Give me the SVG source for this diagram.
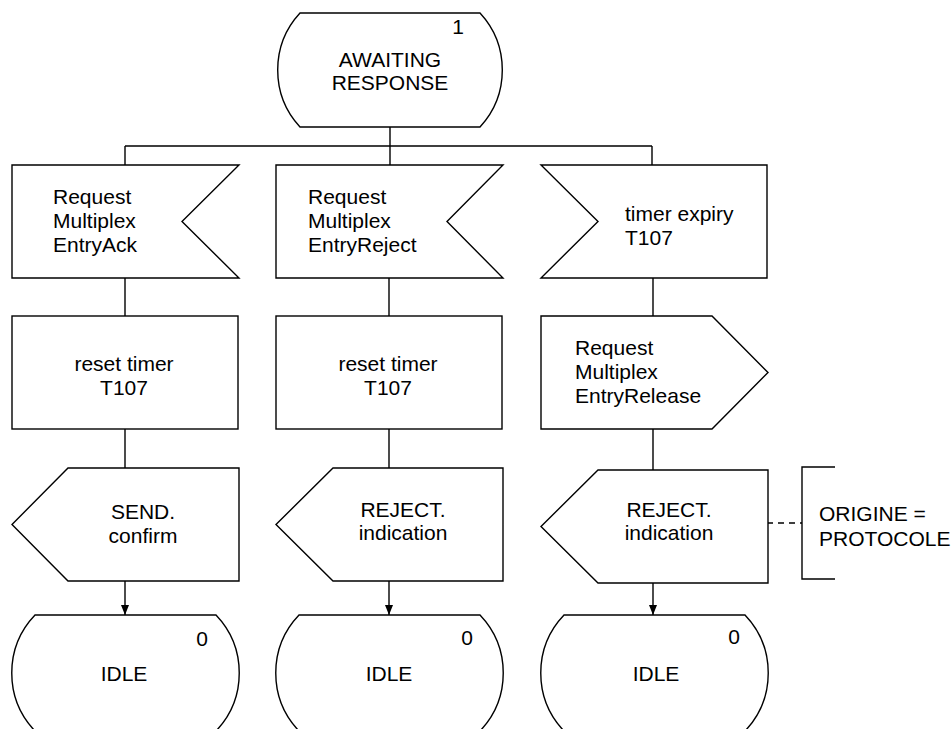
<svg xmlns="http://www.w3.org/2000/svg" width="951" height="729" viewBox="0 0 951 729">
<defs>
<style>
.s{fill:#fff;stroke:#000;stroke-width:1.4}
.c{fill:none;stroke:#000;stroke-width:1.4}
.d{fill:none;stroke:#000;stroke-width:1.4;stroke-dasharray:6 5}
text{font-family:"Liberation Sans",Arial,sans-serif;font-size:21px;fill:#000}
.m{text-anchor:middle}
</style>
<marker id="ah" viewBox="0 0 10 10" refX="10" refY="5" markerWidth="10" markerHeight="10" markerUnits="userSpaceOnUse" orient="auto">
<path d="M0,1 L10,5 L0,9 Z" fill="#000"/>
</marker>
</defs>
<rect width="951" height="729" fill="#fff"/>
<g id="connectors">
<path class="c" d="M390,127 V165 M125,146 H652 M125,146 V165 M652,146 V165"/>
<path class="c" d="M125,278 V316 M389,278 V316 M653,278 V316"/>
<path class="c" d="M125,429 V468 M389,429 V468 M653,429 V470"/>
<path class="c" d="M125,581 V615" marker-end="url(#ah)"/>
<path class="c" d="M389,581 V615" marker-end="url(#ah)"/>
<path class="c" d="M653,583 V615" marker-end="url(#ah)"/>
<path class="d" d="M767,523 H802"/>
</g>
<g id="state-awaiting">
<path class="s" d="M300,13 H480 A84,84 0 0 1 480,127 H300 A84,84 0 0 1 300,13 Z"/>
<text x="458" y="34" class="m">1</text>
<text x="390" y="67" class="m">AWAITING</text>
<text x="390" y="90" class="m">RESPONSE</text>
</g>
<g id="in-ack">
<path class="s" d="M12,165 H239 L182,221.5 L239,278 H12 Z"/>
<text x="53" y="204">Request</text>
<text x="53" y="228">Multiplex</text>
<text x="53" y="252">EntryAck</text>
</g>
<g id="in-reject">
<path class="s" d="M276,165 H503 L447,221.5 L503,278 H276 Z"/>
<text x="308" y="204">Request</text>
<text x="308" y="228">Multiplex</text>
<text x="308" y="252">EntryReject</text>
</g>
<g id="in-timer">
<path class="s" d="M541,165 H767 V278 H541 L598,221.5 Z"/>
<text x="625" y="221">timer expiry</text>
<text x="625" y="245">T107</text>
</g>
<g id="task-1">
<rect class="s" x="12" y="316" width="226" height="113"/>
<text x="124" y="371" class="m">reset timer</text>
<text x="124" y="395" class="m">T107</text>
</g>
<g id="task-2">
<rect class="s" x="276" y="316" width="226" height="113"/>
<text x="388" y="371" class="m">reset timer</text>
<text x="388" y="395" class="m">T107</text>
</g>
<g id="out-release">
<path class="s" d="M541,316 H712 L768,372.5 L712,429 H541 Z"/>
<text x="575" y="355">Request</text>
<text x="575" y="379">Multiplex</text>
<text x="575" y="403">EntryRelease</text>
</g>
<g id="out-send">
<path class="s" d="M68,468 H239 V581 H68 L12,524.5 Z"/>
<text x="143" y="519" class="m">SEND.</text>
<text x="143" y="543" class="m">confirm</text>
</g>
<g id="out-reject-2">
<path class="s" d="M333,468 H503 V581 H333 L276,524.5 Z"/>
<text x="403" y="517" class="m">REJECT.</text>
<text x="403" y="540" class="m">indication</text>
</g>
<g id="out-reject-3">
<path class="s" d="M598,470 H768 V583 H598 L541,526.5 Z"/>
<text x="669" y="517" class="m">REJECT.</text>
<text x="669" y="540" class="m">indication</text>
</g>
<g id="comment">
<path class="c" d="M835,467 H802 V579 H835"/>
<text x="819" y="521">ORIGINE =</text>
<text x="819" y="546">PROTOCOLE</text>
</g>
<g id="state-idle-1">
<path class="s" d="M35,615 H216 A84,84 0 0 1 216,731 H35 A84,84 0 0 1 35,615 Z"/>
<text x="202" y="646" class="m">0</text>
<text x="124" y="681" class="m">IDLE</text>
</g>
<g id="state-idle-2">
<path class="s" d="M299,615 H480 A84,84 0 0 1 480,731 H299 A84,84 0 0 1 299,615 Z"/>
<text x="467" y="645" class="m">0</text>
<text x="389" y="681" class="m">IDLE</text>
</g>
<g id="state-idle-3">
<path class="s" d="M564,615 H745 A84,84 0 0 1 745,731 H564 A84,84 0 0 1 564,615 Z"/>
<text x="734" y="644" class="m">0</text>
<text x="656" y="681" class="m">IDLE</text>
</g>
</svg>
